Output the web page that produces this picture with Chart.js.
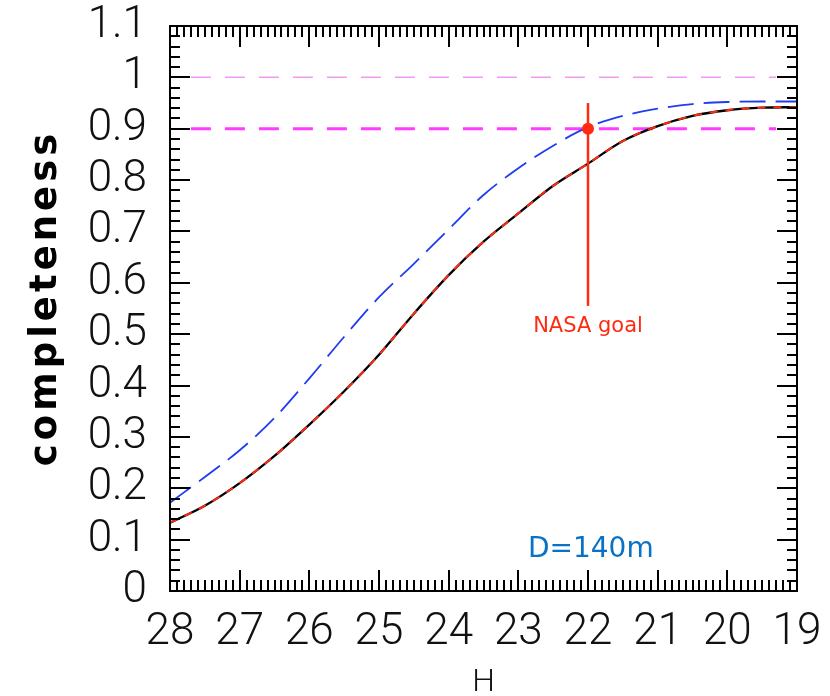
<!DOCTYPE html>
<html lang="en">
<head>
    <meta charset="UTF-8">
    <title>Completeness vs H</title>
    <script src="https://cdn.jsdelivr.net/npm/chart.js"></script>
    <style>
        body { margin: 0; background: #fff; }
    </style>
</head>
<body>
    <canvas id="completenessChart" width="830" height="696"></canvas>

    <script>
        // absolute magnitude grid (x axis runs from 28 down to 19)
        const hGrid = [28, 27.5, 27, 26.5, 26, 25.5, 25, 24.5, 24, 23.5, 23, 22.5, 22, 21.5, 21, 20.5, 20, 19.5, 19];
        // survey completeness (black / red curve)
        const completeness = [0.133, 0.166, 0.21, 0.263, 0.324, 0.389, 0.46, 0.54, 0.615, 0.68, 0.735, 0.789, 0.832, 0.876, 0.905, 0.925, 0.936, 0.941, 0.942];
        // completeness, blue dashed curve
        const completenessBlue = [0.172, 0.222, 0.274, 0.337, 0.414, 0.495, 0.572, 0.637, 0.704, 0.771, 0.823, 0.867, 0.903, 0.925, 0.939, 0.948, 0.952, 0.953, 0.953];
        // horizontal reference levels
        const refLevels = [1.0, 0.9];
        const refLineH = [27.7, 19.3];
        // NASA goal marker
        const goalH = 22;
        const goalValue = 0.9;
        const goalBar = [0.555, 0.95];

        const pts = (xs, ys) => xs.map((h, i) => ({ x: h, y: ys[i] }));
        const flat = (v) => refLineH.map(h => ({ x: h, y: v }));

        const RED = '#ff2a12';
        const TICK_FONT = { family: 'Roboto, "Liberation Sans"', size: 44, weight: 300 };

        // frame, inward ticks on all four sides, y title and the two notes
        const framePlugin = {
            id: 'frame',
            afterDraw(chart) {
                const { ctx, chartArea: a, scales: { x, y } } = chart;
                ctx.save();
                ctx.strokeStyle = '#000';
                ctx.lineWidth = 2;
                ctx.beginPath();
                for (let i = 0; i <= 90; i++) {
                    const px = Math.round(x.getPixelForValue(19 + i / 10));
                    const len = i % 10 === 0 ? 21 : 11;
                    ctx.moveTo(px, a.bottom); ctx.lineTo(px, a.bottom - len);
                    ctx.moveTo(px, a.top); ctx.lineTo(px, a.top + len);
                }
                for (let j = 0; j <= 55; j++) {
                    const py = Math.round(y.getPixelForValue(j * 0.02));
                    const len = j % 5 === 0 ? 20 : 10;
                    ctx.moveTo(a.left, py); ctx.lineTo(a.left + len, py);
                    ctx.moveTo(a.right, py); ctx.lineTo(a.right - len, py);
                }
                ctx.stroke();
                ctx.strokeRect(a.left, a.top, a.width, a.height);

                ctx.textAlign = 'center';
                ctx.textBaseline = 'middle';
                ctx.fillStyle = RED;
                ctx.font = '21px "DejaVu Sans"';
                ctx.fillText('NASA goal', x.getPixelForValue(goalH), y.getPixelForValue(0.515));
                ctx.fillStyle = '#0a72c6';
                ctx.font = '28px "DejaVu Sans"';
                ctx.fillText('D=140m', x.getPixelForValue(21.96), y.getPixelForValue(0.08));

                // y axis title, letter-spaced like the original
                ctx.translate(46, 298);
                ctx.rotate(-Math.PI / 2);
                ctx.fillStyle = '#000';
                ctx.font = 'bold 37px "DejaVu Sans"';
                ctx.letterSpacing = '4px';
                ctx.fillText('completeness', 0, 0);
                ctx.restore();
            }
        };

        const ctx = document.getElementById('completenessChart').getContext('2d');
        new Chart(ctx, {
            type: 'line',
            data: {
                datasets: [
                    {   // goal point
                        data: [{ x: goalH, y: goalValue }],
                        showLine: false,
                        pointRadius: 6,
                        pointBackgroundColor: RED,
                        pointBorderWidth: 0
                    },
                    {   // goal bar
                        data: goalBar.map(v => ({ x: goalH, y: v })),
                        borderColor: RED,
                        borderWidth: 2.5,
                        pointRadius: 0
                    },
                    {   // red overlay on black curve
                        data: pts(hGrid, completeness),
                        borderColor: RED,
                        borderWidth: 2,
                        borderDash: [8, 8],
                        pointRadius: 0,
                        cubicInterpolationMode: 'monotone'
                    },
                    {
                        data: pts(hGrid, completeness),
                        borderColor: '#000',
                        borderWidth: 2.3,
                        pointRadius: 0,
                        cubicInterpolationMode: 'monotone'
                    },
                    {
                        data: pts(hGrid, completenessBlue),
                        borderColor: '#1f3cf0',
                        borderWidth: 1.8,
                        borderDash: [26, 10],
                        pointRadius: 0,
                        cubicInterpolationMode: 'monotone'
                    },
                    {
                        data: flat(refLevels[1]),
                        borderColor: '#ff3cff',
                        borderWidth: 3,
                        borderDash: [20, 14],
                        pointRadius: 0
                    },
                    {
                        data: flat(refLevels[0]),
                        borderColor: '#f29af2',
                        borderWidth: 1.5,
                        borderDash: [20, 14],
                        pointRadius: 0
                    }
                ]
            },
            options: {
                responsive: false,
                animation: false,
                events: [],
                layout: { padding: { top: 26, right: 33, left: 0, bottom: 0 } },
                plugins: {
                    legend: { display: false },
                    tooltip: { enabled: false }
                },
                scales: {
                    x: {
                        type: 'linear',
                        min: 19,
                        max: 28,
                        reverse: true,
                        grid: { display: false, drawTicks: false },
                        border: { display: false },
                        ticks: {
                            stepSize: 1,
                            padding: 16,
                            color: '#111',
                            font: TICK_FONT,
                            autoSkip: false,
                            maxRotation: 0
                        },
                        title: {
                            display: true,
                            text: 'H',
                            color: '#111',
                            font: { family: 'Roboto, "Liberation Sans"', size: 32, weight: 300, lineHeight: 1 },
                            padding: { top: 0, bottom: -3 }
                        },
                        afterFit: (s) => { s.height = 105; s.paddingLeft = 0; s.paddingRight = 0; }
                    },
                    y: {
                        min: 0,
                        max: 1.1,
                        grid: { display: false, drawTicks: false },
                        border: { display: false },
                        ticks: {
                            stepSize: 0.1,
                            padding: 23,
                            color: '#111',
                            font: TICK_FONT,
                            autoSkip: false,
                            callback: (v) => String(Math.round(v * 10) / 10)
                        },
                        afterFit: (s) => { s.width = 170; s.paddingTop = 0; s.paddingBottom = 0; }
                    }
                }
            },
            plugins: [framePlugin]
        });
    </script>
</body>
</html>
